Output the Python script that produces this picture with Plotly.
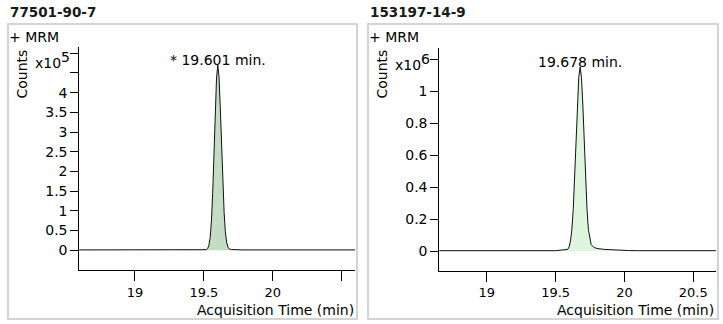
import plotly.graph_objects as go

W, H = 723, 324

# ---------------- data ----------------
titles = ["77501-90-7", "153197-14-9"]
peak_labels = ["* 19.601 min.", "19.678 min."]
peak_times = [19.601, 19.678]
exponent_labels = ["x10<sup>5</sup>", "x10<sup>6</sup>"]

# left chromatogram (Counts x10^5)
t_left = [18.59, 19.45, 19.518, 19.527, 19.537, 19.546, 19.555, 19.564, 19.573,
          19.583, 19.592, 19.601, 19.610, 19.619, 19.629, 19.638, 19.647, 19.656,
          19.665, 19.675, 19.684, 19.70, 19.72, 19.78, 20.61]
y_left = [0.01, 0.01, 0.015, 0.04, 0.13, 0.33, 0.74, 1.44, 2.41,
          3.50, 4.37, 4.70, 4.41, 3.64, 2.65, 1.69, 0.96, 0.47,
          0.21, 0.08, 0.035, 0.02, 0.015, 0.01, 0.01]

# right chromatogram (Counts x10^6)
t_right = [18.65, 19.50, 19.588, 19.598, 19.608, 19.618, 19.628, 19.638, 19.648,
           19.658, 19.668, 19.678, 19.688, 19.698, 19.708, 19.718, 19.728, 19.738,
           19.748, 19.758, 19.778, 19.808, 19.858, 19.928, 20.028, 20.10, 20.67]
y_right = [0.002, 0.002, 0.01, 0.026, 0.063, 0.135, 0.26, 0.444, 0.674,
           0.906, 1.083, 1.15, 1.083, 0.906, 0.674, 0.444, 0.26, 0.135,
           0.07, 0.04, 0.022, 0.015, 0.01, 0.006, 0.003, 0.002, 0.002]

left_yticks = [0, 0.5, 1, 1.5, 2, 2.5, 3, 3.5, 4, 4.5, 5]
left_yticktext = ["0", "0.5", "1", "1.5", "2", "2.5", "3", "3.5", "4", "", ""]
right_yticks = [0, 0.2, 0.4, 0.6, 0.8, 1.0, 1.2]
right_yticktext = ["0", "0.2", "0.4", "0.6", "0.8", "1", ""]

left_xticks = [19, 19.5, 20, 20.5]
left_xticktext = ["19", "19.5", "20", ""]
right_xticks = [19, 19.5, 20, 20.5]
right_xticktext = ["19", "19.5", "20", "20.5"]

x_title = "Acquisition Time (min)"
y_title = "Counts"
scan_label = "+ MRM"

# ---------------- figure ----------------
FONT = "DejaVu Sans"
fig = go.Figure()

fig.add_trace(go.Scatter(x=t_left, y=y_left, mode="lines", fill="tozeroy",
                         fillcolor="#c3dcc3", line=dict(color="#111111", width=1),
                         xaxis="x", yaxis="y", hoverinfo="skip"))
fig.add_trace(go.Scatter(x=t_right, y=y_right, mode="lines", fill="tozeroy",
                         fillcolor="#def6de", line=dict(color="#111111", width=1),
                         xaxis="x2", yaxis="y2", hoverinfo="skip"))

def px(x):
    return x / W

def py(y):
    return 1 - y / H

axis_common = dict(showline=True, linecolor="black", linewidth=1, showgrid=False,
                   zeroline=False, ticks="outside", tickcolor="black", fixedrange=True)
xfont = dict(family=FONT, size=13, color="black")
yfont = dict(family=FONT, size=14, color="black")

fig.update_layout(
    width=W, height=H, margin=dict(l=0, r=0, t=0, b=0),
    paper_bgcolor="white", plot_bgcolor="white", showlegend=False,
    xaxis=dict(domain=[px(79.3), px(355)], range=[18.596, 20.597], anchor="y",
               tickvals=left_xticks, ticktext=left_xticktext, ticklen=10,
               tickfont=xfont, **axis_common),
    yaxis=dict(domain=[py(270), py(47.3)], range=[-0.5, 5.15], anchor="x",
               tickvals=left_yticks, ticktext=left_yticktext, ticklen=8,
               tickfont=yfont, **axis_common),
    xaxis2=dict(domain=[px(439.3), px(716)], range=[18.655, 20.665], anchor="y2",
                tickvals=right_xticks, ticktext=right_xticktext, ticklen=10,
                tickfont=xfont, **axis_common),
    yaxis2=dict(domain=[py(270.7), py(48.3)], range=[-0.123, 1.267], anchor="x2",
                tickvals=right_yticks, ticktext=right_yticktext, ticklen=8,
                tickfont=yfont, **axis_common),
)

shapes = []
for (x0, x1) in [(8, 357), (368, 718)]:
    shapes.append(dict(type="rect", xref="paper", yref="paper",
                       x0=px(x0), x1=px(x1), y0=py(319), y1=py(24),
                       line=dict(color="#d4d4d4", width=2), fillcolor="rgba(0,0,0,0)"))
fig.update_layout(shapes=shapes)

ann = []
exp_pos = [(72, 60), (432, 62)]
for i, off in enumerate([0, 360]):
    ann.append(dict(text="<b>%s</b>" % titles[i], xref="paper", yref="paper",
                    x=px(8 + off), y=py(12), xanchor="left", yanchor="middle",
                    showarrow=False, font=dict(family=FONT, size=13.5, color="#1a1a1a")))
    ann.append(dict(text=scan_label, xref="paper", yref="paper",
                    x=px(7 + off), y=py(37.5), xanchor="left", yanchor="middle",
                    showarrow=False, font=dict(family=FONT, size=14, color="black")))
    ann.append(dict(text=y_title, xref="paper", yref="paper", textangle=-90,
                    x=px(21.5 + off), y=py(74), xanchor="center", yanchor="middle",
                    showarrow=False, font=dict(family=FONT, size=14, color="black")))
    ann.append(dict(text=x_title, xref="paper", yref="paper",
                    x=px(355.5 + off), y=py(310), xanchor="right", yanchor="middle",
                    showarrow=False, font=dict(family=FONT, size=14, color="black")))
    ex, ey = exp_pos[i]
    ann.append(dict(text="x10<sup><span style='font-size:14px'>%s</span></sup>"
                    % exponent_labels[i].split("<sup>")[1].split("</sup>")[0],
                    xref="paper", yref="paper",
                    x=px(ex), y=py(ey), xanchor="right", yanchor="middle",
                    showarrow=False, font=dict(family=FONT, size=14, color="black")))

ann.append(dict(text=peak_labels[0], xref="x", yref="y", x=peak_times[0], y=max(y_left),
                xanchor="center", yanchor="bottom", yshift=-5, showarrow=False,
                font=dict(family=FONT, size=14, color="black")))
ann.append(dict(text=peak_labels[1], xref="x2", yref="y2", x=peak_times[1], y=max(y_right),
                xanchor="center", yanchor="bottom", yshift=-5, showarrow=False,
                font=dict(family=FONT, size=14, color="black")))
fig.update_layout(annotations=ann)

fig.write_html("out.html")
